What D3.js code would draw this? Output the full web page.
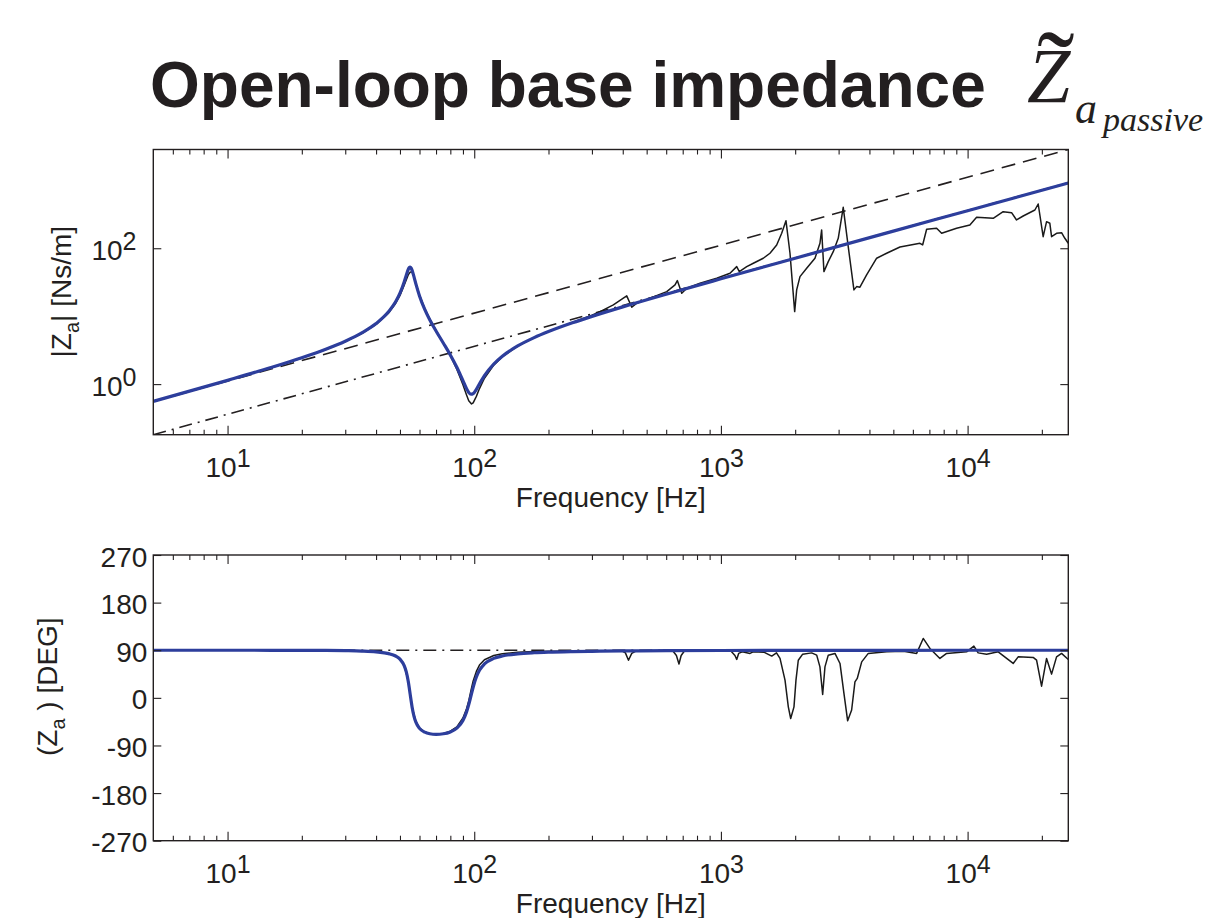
<!DOCTYPE html>
<html><head><meta charset="utf-8">
<script src="https://cdn.jsdelivr.net/npm/d3@7"></script>
<style>
body{margin:0;background:#fff;}
svg{display:block;}
text{font-family:"Liberation Sans",Arial,Helvetica,sans-serif;fill:#231f20;}
</style></head><body>
<svg id="chart" width="1209" height="918"></svg>
<script>
// ---------------- DATA ----------------
// model (blue)
const modelFreq = [5,10,15,20,25,30,35,40,45,48,50,52,53,54,54.5,55,55.5,56,57,58,60,63,66,70,75,80,85,90,93,95,97,99,102,105,110,120,130,150,175,200,250,300,400,600,1000,2000,5000,10000,25600];
const modelMag  = [0.558,1.136,1.756,2.450,3.265,4.284,5.668,7.774,11.68,16.28,21.80,31.88,39.78,48.69,51.87,52.80,51.04,47.23,37.82,29.87,19.89,12.60,8.877,6.060,4.002,2.690,1.775,1.127,0.864,0.755,0.710,0.726,0.838,1.007,1.329,1.975,2.572,3.641,4.831,5.929,7.982,9.936,13.71,21.04,35.47,71.29,178.5,357.0,913.9];
const modelPhase= [90.0,90.0,89.9,89.8,89.6,89.2,88.5,87.0,83.6,79.1,73.1,60.8,49.4,31.3,19.5,6.6,-6.1,-17.6,-35.0,-46.0,-57.7,-64.9,-67.8,-68.9,-67.9,-64.4,-57.2,-42.7,-27.0,-12.7,3.8,20.0,39.3,52.0,64.1,74.6,79.1,83.1,85.2,86.3,87.4,88.0,88.6,89.1,89.5,89.7,89.9,89.95,90.0];

// measured (black) magnitude
const measMagFreq = [5,8,10,15,20,25,30,35,40,45,48,50,52,54,55,55.8,56.5,58,60,63,66,70,75,80,85,90,93,95,97.5,99,102,105,110,120,130,150,175,200,250,300,323.6,366.4,402.2,415.2,435.1,455.9,516.1,603.2,651.6,665.7,693.7,726.8,823.0,961.6,1088.6,1158.8,1187.5,1272.4,1353.5,1485.1,1580.8,1682.9,1763.4,1835.4,1905.5,1990.7,2028.2,2091.7,2226.4,2405.9,2520.4,2560.8,2616.2,2723.8,2853.5,2989.8,3132.0,3281.8,3461.1,3549.1,3660.3,3896.0,4279.0,4696.7,5318.9,6408.6,6572.8,6822.7,7489.4,7847.7,9024.6,10216,10876,12697,13938,15076,15793,16801,18740,19327,20246,20899,21549,21900,22942,24038,24786,25600];
const measMag = [0.556,0.90,1.13,1.74,2.43,3.22,4.22,5.55,7.55,11.2,15.4,20.2,28.5,40.5,44.5,45.0,42,30,20.5,13.0,9.1,6.15,4.0,2.62,1.66,0.98,0.70,0.57,0.51,0.53,0.66,0.86,1.22,1.90,2.53,3.62,4.85,5.97,8.1,10.3,11.68,14.66,18.40,19.89,13.56,15.53,18.40,23.00,28.86,33.39,21.79,25.81,30.57,36.22,42.89,53.62,45.29,53.62,60.17,71.28,84.43,111.8,166.2,254.6,84.43,11.68,24.37,38.22,50.80,71.28,118.4,185.8,45.29,63.52,89.13,140.3,400.7,105.6,24.37,27.25,26.70,40.50,71.28,84.43,104.5,118.4,111.8,190.3,196.9,166.2,196.9,220.1,285.6,276.1,345.2,333.8,260.8,298.5,365.7,448.1,148.1,246.1,233.1,148.1,166.2,169.6,140.3,118.4];

// measured (black) phase
const measPhFreq = [5,10,20,30,40,45,48,50,52,54,55,56,58,60,63,66,70,75,80,85,90,93,95,97,99,102,105,110,120,130,150,175,200,300,400,410,422,435,450,640,660,676,690,710,1100,1140,1159,1180,1220,1312,1350,1500,1607,1680,1736,1819,1876,1918,1978,2015,2059,2145,2333,2445,2520,2585,2641,2724,2900,3039,3153,3264,3388,3494,3570,3721,3957,4697,5500,6214,6609,7035,7722,8221,9906,10605,11037,11940,13305,15303,16032,18444,19039,19946,20899,21900,22942,24038,25600];
const measPhase  = [90,90,89.5,89,87,83.5,79,73,61,32,7,-17,-45,-57,-64.5,-67.5,-68.5,-67.5,-63,-55,-38,-21,-6,14,32,50,62,72,80,83.5,86,87.5,88,88.5,88,85,71,84,88,88,80,64,80,88,88,80,72.6,84,87,84,87,86,79,85,74.5,33.5,-17,-39,-17,33.5,71,82.6,85,80.7,58.6,6.4,58.6,80.7,84,65,8.3,-43.5,-23,30.3,36.7,68,84,87,88,84,112.3,93.4,74.5,84,87,97.8,85,82.6,87,65,77.5,76.4,71.3,22.1,74.5,44.8,77.5,84,72.6];

// asymptotes
const asymFreq = [5, 25600];
const lowMassMag = [0.555, 2841.6];   // dashed
const highMassMag = [0.18, 921.6];    // dash-dot
const asymPhase = [90, 90];

// ticks
const xMajor = [10, 100, 1000, 10000];
const xMajorExp = ["1","2","3","4"];
const xMinor = [6,7,8,9,20,30,40,50,60,70,80,90,200,300,400,500,600,700,800,900,2000,3000,4000,5000,6000,7000,8000,9000,20000];
const magTicks = [1, 100];
const magTickExp = ["0","2"];
const phaseTicks = [-270,-180,-90,0,90,180,270];
const phaseTickLabels = ["-270","-180","-90","0","90","180","270"];

// ---------------- LAYOUT ----------------
const ink = "#231f20", blue = "#2d3e9c";
const L = 153.3, R = 1068.3;
const top1 = 149.5, bot1 = 434.7, top2 = 555, bot2 = 840.7;

const svg = d3.select("#chart");
const x = d3.scaleLog().domain([5, 25600]).range([L, R]);
const yMag = d3.scaleLog().domain([0.18, 2842]).range([bot1, top1]);
const yPh = d3.scaleLinear().domain([-270, 270]).range([bot2, top2]);

const defs = svg.append("defs");
defs.append("clipPath").attr("id","c1").append("rect").attr("x",L).attr("y",top1).attr("width",R-L).attr("height",bot1-top1);
defs.append("clipPath").attr("id","c2").append("rect").attr("x",L).attr("y",top2).attr("width",R-L).attr("height",bot2-top2);

// ---------------- TITLE ----------------
svg.append("text").attr("x",150).attr("y",107).attr("font-size",64).attr("font-weight","bold").text("Open-loop base impedance");
const serif = "'Liberation Serif','Times New Roman',Times,serif";
const math = svg.append("text").style("font-family",serif).attr("font-style","italic");
math.append("tspan").attr("x",1027).attr("y",102).attr("font-size",78).text("Z");
math.append("tspan").attr("x",1075).attr("y",123).attr("font-size",44).text("a");
math.append("tspan").attr("x",1103).attr("y",131).attr("font-size",34).text("passive");
math.append("tspan").attr("x",1056).attr("y",108).attr("text-anchor","middle").attr("font-style","normal").attr("font-size",112).text("\u02DC");

// ---------------- AXES HELPERS ----------------
function styleAxis(g){
  g.select(".domain").remove();
  g.selectAll(".tick line").attr("stroke", ink).attr("stroke-width", 1.1);
  g.selectAll(".tick text").attr("fill", ink).attr("font-size", 28).attr("font-family", "Liberation Sans, Arial, sans-serif");
}
function powLabels(g, exps, mode){
  g.selectAll(".tick text").each(function(d,i){
    const t = d3.select(this);
    t.text("");
    if (mode === "x") { t.attr("y", 42.3).attr("dy", null); }
    else { t.attr("dy", 11); }
    t.append("tspan").text("10");
    t.append("tspan").attr("dy", -10).attr("font-size", 25).text(exps[i]);
  });
}
function xAxes(top, bot){
  const gb = svg.append("g").attr("transform",`translate(0,${bot})`)
    .call(d3.axisBottom(x).tickValues(xMajor).tickSizeInner(-9).tickSizeOuter(0).tickPadding(0).tickFormat(()=>"10"));
  styleAxis(gb); powLabels(gb, xMajorExp, "x");
  const gbm = svg.append("g").attr("transform",`translate(0,${bot})`)
    .call(d3.axisBottom(x).tickValues(xMinor).tickSizeInner(-5).tickSizeOuter(0).tickFormat(""));
  styleAxis(gbm);
  const gt = svg.append("g").attr("transform",`translate(0,${top})`)
    .call(d3.axisTop(x).tickValues(xMajor).tickSizeInner(-9).tickSizeOuter(0).tickFormat(""));
  styleAxis(gt);
  const gtm = svg.append("g").attr("transform",`translate(0,${top})`)
    .call(d3.axisTop(x).tickValues(xMinor).tickSizeInner(-5).tickSizeOuter(0).tickFormat(""));
  styleAxis(gtm);
}
function frame(top, bot){
  svg.append("rect").attr("x",L).attr("y",top).attr("width",R-L).attr("height",bot-top)
    .attr("fill","none").attr("stroke",ink).attr("stroke-width",1.4);
}

// ---------------- TOP PLOT ----------------
const lineMag = d3.line().x(d=>x(d[0])).y(d=>yMag(d[1]));
const lineMagSmooth = d3.line().x(d=>x(d[0])).y(d=>yMag(d[1])).curve(d3.curveMonotoneX);
const p1 = svg.append("g").attr("clip-path","url(#c1)");
p1.append("path").datum(d3.zip(asymFreq, lowMassMag)).attr("d", lineMag)
  .attr("fill","none").attr("stroke",ink).attr("stroke-width",1.6).attr("stroke-dasharray","14,8");
p1.append("path").datum(d3.zip(asymFreq, highMassMag)).attr("d", lineMag)
  .attr("fill","none").attr("stroke",ink).attr("stroke-width",1.6).attr("stroke-dasharray","13,6,2,6");
p1.append("path").datum(d3.zip(measMagFreq, measMag)).attr("d", lineMag)
  .attr("fill","none").attr("stroke","#1a1a1a").attr("stroke-width",1.5).attr("stroke-linejoin","round");
p1.append("path").datum(d3.zip(modelFreq, modelMag)).attr("d", lineMagSmooth)
  .attr("fill","none").attr("stroke",blue).attr("stroke-width",3.2).attr("stroke-linejoin","round");

xAxes(top1, bot1);
const gl1 = svg.append("g").attr("transform",`translate(${L},0)`)
  .call(d3.axisLeft(yMag).tickValues(magTicks).tickSizeInner(-8).tickSizeOuter(0).tickPadding(16.8).tickFormat(()=>"10"));
styleAxis(gl1); powLabels(gl1, magTickExp, "y");
const gr1 = svg.append("g").attr("transform",`translate(${R},0)`)
  .call(d3.axisRight(yMag).tickValues(magTicks).tickSizeInner(-8).tickSizeOuter(0).tickFormat(""));
styleAxis(gr1);
frame(top1, bot1);

svg.append("text").attr("x",(L+R)/2).attr("y",507).attr("text-anchor","middle").attr("font-size",28).text("Frequency [Hz]");
const yl1 = svg.append("text").attr("transform","translate(71,291.7) rotate(-90)").attr("text-anchor","middle").attr("font-size",28);
yl1.append("tspan").text("|Z");
yl1.append("tspan").attr("dy",8).attr("font-size",20).text("a");
yl1.append("tspan").attr("dy",-8).text("| [Ns/m]");

// ---------------- BOTTOM PLOT ----------------
const linePh = d3.line().x(d=>x(d[0])).y(d=>yPh(d[1]));
const linePhSmooth = d3.line().x(d=>x(d[0])).y(d=>yPh(d[1])).curve(d3.curveMonotoneX);
const p2 = svg.append("g").attr("clip-path","url(#c2)");
p2.append("path").datum(d3.zip(asymFreq, asymPhase)).attr("d", linePh)
  .attr("fill","none").attr("stroke",ink).attr("stroke-width",1.6).attr("stroke-dasharray","13,6,2,6");
p2.append("path").datum(d3.zip(measPhFreq, measPhase)).attr("d", linePh)
  .attr("fill","none").attr("stroke","#1a1a1a").attr("stroke-width",1.5).attr("stroke-linejoin","round");
p2.append("path").datum(d3.zip(modelFreq, modelPhase)).attr("d", linePhSmooth)
  .attr("fill","none").attr("stroke",blue).attr("stroke-width",3.2).attr("stroke-linejoin","round");

xAxes(top2, bot2);
const gl2 = svg.append("g").attr("transform",`translate(${L},0)`)
  .call(d3.axisLeft(yPh).tickValues(phaseTicks).tickSizeInner(-8).tickSizeOuter(0).tickPadding(6)
    .tickFormat((d,i)=>phaseTickLabels[i]));
styleAxis(gl2); gl2.selectAll(".tick text").attr("dy", 11);
const gr2 = svg.append("g").attr("transform",`translate(${R},0)`)
  .call(d3.axisRight(yPh).tickValues(phaseTicks).tickSizeInner(-8).tickSizeOuter(0).tickFormat(""));
styleAxis(gr2);
frame(top2, bot2);

svg.append("text").attr("x",(L+R)/2).attr("y",913).attr("text-anchor","middle").attr("font-size",28).text("Frequency [Hz]");
const yl2 = svg.append("text").attr("transform","translate(57,686.7) rotate(-90)").attr("text-anchor","middle").attr("font-size",28);
yl2.append("tspan").text("(Z");
yl2.append("tspan").attr("dy",8).attr("font-size",20).text("a");
yl2.append("tspan").attr("dy",-8).text(" ) [DEG]");
</script>
</body></html>
